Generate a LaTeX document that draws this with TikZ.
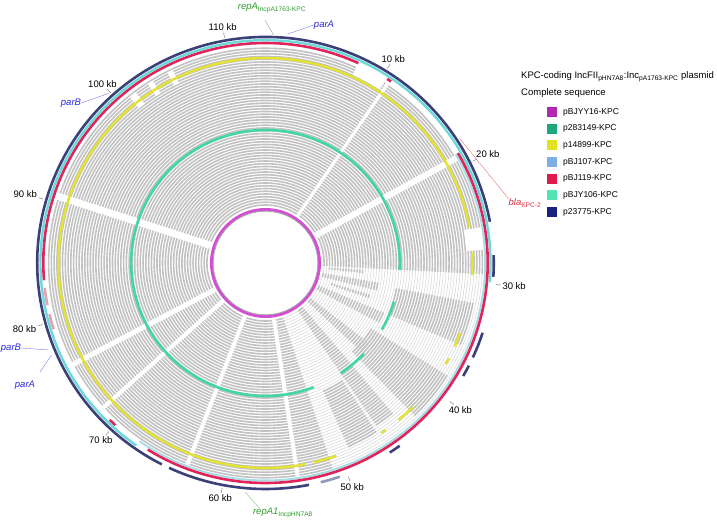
\documentclass[tikz,border=0pt]{standalone}
\usepackage{fontspec}
\setmainfont{Liberation Sans}
\definecolor{cmag}{HTML}{D24FD2}
\definecolor{cgreen}{HTML}{40D6A6}
\definecolor{cyel}{HTML}{E4E234}
\definecolor{clb}{HTML}{A6DCE6}
\definecolor{cred}{HTML}{E0245A}
\definecolor{cpink}{HTML}{E8A0B0}
\definecolor{cturq}{HTML}{6CD8D8}
\definecolor{cnavy}{HTML}{3C4078}
\definecolor{cnavyl}{HTML}{8E98B8}
\definecolor{rgray}{HTML}{C2C2C2}
\definecolor{lA}{HTML}{B02AB4}
\definecolor{lB}{HTML}{1CA77C}
\definecolor{lC}{HTML}{E2E122}
\definecolor{lD}{HTML}{7FAEE2}
\definecolor{lE}{HTML}{E2194D}
\definecolor{lF}{HTML}{52E3B4}
\definecolor{lG}{HTML}{1C2180}
\definecolor{tgreen}{HTML}{2E9E2E}
\definecolor{tblue}{HTML}{2828E0}
\definecolor{tred}{HTML}{E03040}
\newcommand{\rseg}[5]{\draw[#1,line width=#2pt] ({90-(#4)}:#3) arc[start angle={90-(#4)},end angle={90-(#5)},radius=#3];}
\newcommand{\rpatch}[4]{\fill[white] ({90-(#3)}:#1) arc[start angle={90-(#3)},end angle={90-(#4)},radius=#1] -- ({90-(#4)}:#2) arc[start angle={90-(#4)},end angle={90-(#3)},radius=#2] -- cycle;}
\tikzset{
  ticklab/.style={font=\fontsize{9.5}{11}\selectfont, inner sep=1.5pt},
  genelab/.style={font=\fontsize{9.5}{11}\selectfont\itshape, inner sep=0pt},
  leglab/.style={font=\fontsize{8.5}{10}\selectfont, anchor=west, inner sep=0pt},
  legbox/.style={minimum size=10pt, inner sep=0pt, draw=none},
  pointer/.style={draw=gray!80, line width=0.4pt},
}
\begin{document}
\begin{tikzpicture}[x=1pt,y=1pt]
\useasboundingbox (0,0) rectangle (717,525);
\begin{scope}[shift={(265.5,262)}, xscale=1.01]
  % gray BLAST rings
  \foreach \i in {0,...,57}{
    \draw[rgray, line width=1.6pt] (0,0) circle[radius={58+2.75*\i}];
  }
  % sparse sector
  \rpatch{56}{216}{93}{162}
  \foreach \i in {0,...,57}{
    \rseg{gray!35}{0.45}{58+2.75*\i}{93}{162}
  }
  \foreach \lo/\hi/\sa/\sb in {27/55/101/113, 24/56/122/136, 30/52/147/156,
      0/20/100/104, 0/25/113/118, 0/26/128/133, 0/50/140/146, 2/14/94/96, 4/18/107/109}{
    \foreach \i in {\lo,...,\hi}{
      \rseg{rgray}{1.6}{58+2.75*\i}{\sa}{\sb}
    }
  }
  % radial white gaps
  \foreach \ang/\wid in {34/3, 61/6, 288/7, 228/4, 201/4, 171.5/4, 242/5}{
    \draw[white, line width=\wid pt] ({90-\ang}:56) -- ({90-\ang}:216);
  }
  % white patches in outer rings
  \rpatch{207}{218}{24.7}{33}
  \rpatch{199}{217}{80.5}{86.5}
  \foreach \sa/\sb in {321/323, 327/328.5, 333/334.5}{
    \rpatch{199}{214}{\sa}{\sb}
  }
  % inner reference circle
  \fill[white] (0,0) circle[radius=52];
  \draw[cmag, line width=3pt] (0,0) circle[radius=53.5];
  \draw[gray!70, line width=0.8pt] (0,0) circle[radius=51.8];
  % green ring
  \rseg{cgreen}{2.6}{133}{159}{453}
  \rseg{cgreen}{2.6}{133}{107}{120}
  \rseg{cgreen}{2.6}{133}{133}{146}
  % yellow ring
  \rseg{cyel}{2.5}{205}{169}{440}
  \foreach \sa/\sb in {87/93.4, 110/114, 117.7/119.5, 134.6/140, 144.5/146, 160/166.5}{
    \rseg{cyel}{2.5}{205}{\sa}{\sb}
  }
  % light blue ring
  \rseg{clb}{2}{217.5}{60}{215}
  % red ring
  \rseg{cred}{2.6}{220}{265.5}{384.7}
  \rseg{cred}{2.6}{220}{33.2}{34.4}
  \rseg{cred}{2.6}{220}{60}{212}
  \rseg{cred}{2.6}{220}{222.5}{224.5}
  \rseg{cpink}{2.6}{220}{252.5}{256.5}
  \rseg{cpink}{2.6}{220}{259}{263.5}
  % turquoise ring
  \rseg{cturq}{2.4}{222.8}{215}{455}
  % navy ring
  \rseg{cnavy}{2.6}{226}{169}{205}
  \rseg{cnavy}{2.6}{226}{207}{439.5}
  \foreach \sa/\sb in {88/93.5, 108/114.7, 117/120, 144/147}{
    \rseg{cnavy}{2.6}{226}{\sa}{\sb}
  }
  \rseg{cnavyl}{2.6}{226}{161}{166}
  % ticks
  \foreach \k in {10,20,...,110}{
    \pgfmathsetmacro{\thk}{3.18*\k}
    \pgfmathsetmacro{\ank}{270-\thk}
    \coordinate (ti\k) at ({90-\thk}:229);
    \coordinate (to\k) at ({90-\thk}:234);
    \draw[gray, line width=0.5pt] (ti\k) -- (to\k);
    \node[ticklab, anchor=\ank] (t\k) at (to\k) {\k\ kb};
  }
  % gene pointer anchors on the ring
  \coordinate (gRepA) at ({90-2}:228);
  \coordinate (gParA) at ({90-5.5}:230);
  \coordinate (gBla) at ({90-57}:229);
  \coordinate (gRepA1) at ({90-185}:230);
  \coordinate (gParB2) at ({90-248}:232);
  \coordinate (gParA2) at ({90-246.5}:231);
  \coordinate (gParB1) at ({90-317.5}:230);
\end{scope}
% gene labels
\node[genelab, text=tgreen] (repA) at (272,517) {repA\textsubscript{\upshape IncpA1763-KPC}};
\node[genelab, text=tblue] (parA) at (324,500) {parA};
\node[genelab, text=tred] (bla) at (525,322) {bla\textsubscript{\upshape KPC-2}};
\node[genelab, text=tgreen] (repA1) at (283,12) {repA1\textsubscript{\upshape IncpHN7A8}};
\node[genelab, text=tblue] (parB2) at (11,177) {parB};
\node[genelab, text=tblue] (parA2) at (25,140) {parA};
\node[genelab, text=tblue] (parB1) at (71,422) {parB};
\coordinate (repAe) at (265,505);
\coordinate (repA1e) at (260,16);
\coordinate (parA2e) at (40,153);
\draw[pointer] (repAe) -- (gRepA);
\draw[pointer, draw=tblue!60] (parA.west) -- (gParA);
\draw[pointer, draw=tred!70] (bla.north west) -- (gBla);
\draw[pointer, draw=tgreen!60] (repA1e) -- (gRepA1);
\draw[pointer, draw=tblue!60] (parB2.east) -- (gParB2);
\draw[pointer, draw=tblue!60] (parA2e) -- (gParA2);
\draw[pointer, draw=tblue!60] (parB1.east) -- (gParB1);
% legend
\node[leglab, font=\fontsize{9.5}{11}\selectfont] (title) at (521,448)
  {KPC-coding IncFII\textsubscript{pHN7A8}:Inc\textsubscript{pA1763-KPC} plasmid};
\node[leglab, font=\fontsize{9.5}{11}\selectfont] (sub) at (521,432) {Complete sequence};
\foreach \c/\n [count=\j from 0] in {lA/pBJYY16-KPC, lB/p283149-KPC, lC/p14899-KPC, lD/pBJ107-KPC, lE/pBJ119-KPC, lF/pBJY106-KPC, lG/p23775-KPC}{
  \node[legbox, fill=\c] (box\j) at (552,{413-16.67*\j}) {};
  \node[leglab] (leg\j) at (563,{413-16.67*\j}) {\n};
}
\end{tikzpicture}
\end{document}
